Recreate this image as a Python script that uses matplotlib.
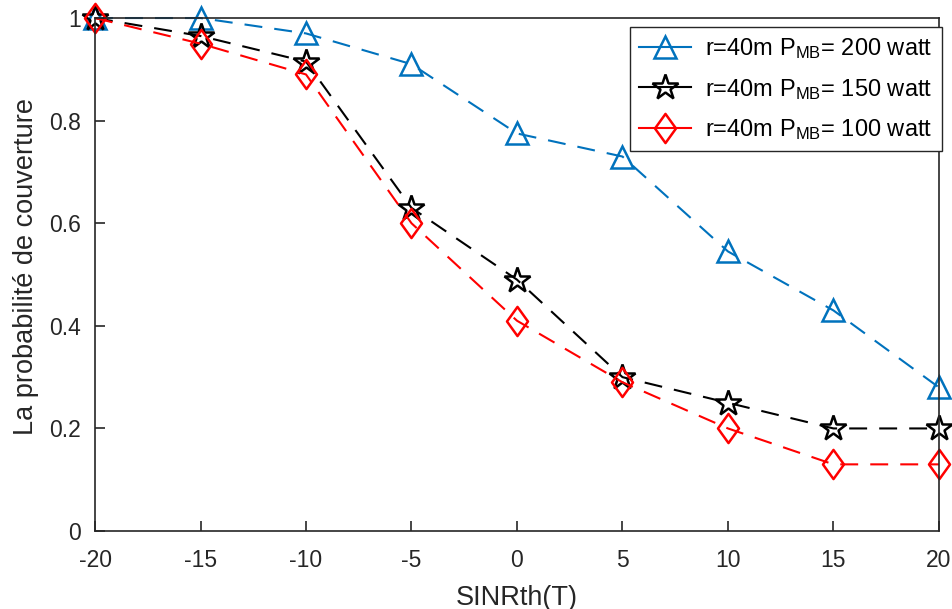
import matplotlib.pyplot as plt
from matplotlib.path import Path

plt.rcParams['font.family'] = ['Liberation Sans', 'DejaVu Sans']
plt.rcParams['mathtext.default'] = 'regular'
plt.rcParams['axes.unicode_minus'] = False

# data
sinr = [-20, -15, -10, -5, 0, 5, 10, 15, 20]
p_200 = [1.0, 1.0, 0.97, 0.91, 0.775, 0.73, 0.545, 0.43, 0.28]
p_150 = [1.0, 0.965, 0.915, 0.63, 0.49, 0.30, 0.25, 0.20, 0.20]
p_100 = [1.0, 0.95, 0.89, 0.60, 0.41, 0.29, 0.20, 0.13, 0.13]
labels = [r'r=40m P$_{MB}$= 200 watt',
          r'r=40m P$_{MB}$= 150 watt',
          r'r=40m P$_{MB}$= 100 watt']

# matlab style diamond, a bit taller than wide
diamond = Path([(0, 1), (0.72, 0), (0, -1), (-0.72, 0), (0, 1)],
               [Path.MOVETO, Path.LINETO, Path.LINETO, Path.LINETO, Path.CLOSEPOLY])

fig = plt.figure(figsize=(9.52, 6.09), dpi=100)
ax = fig.add_axes([0.0998, 0.128, 0.8865, 0.8424])

dash = (0, (8.6, 5.8))
ax.plot(sinr, p_200, color='#0072BD', linestyle=dash, lw=1.5, marker='^',
        ms=16, mfc='none', mew=1.8, label=labels[0], clip_on=False)
ax.plot(sinr, p_150, color='black', linestyle=dash, lw=1.5, marker='*',
        ms=19, mfc='none', mew=1.8, label=labels[1], clip_on=False)
ax.plot(sinr, p_100, color='red', linestyle=dash, lw=1.5, marker=diamond,
        ms=21, mfc='none', mew=1.8, label=labels[2], clip_on=False)

ax.set_xlim(-20, 20)
ax.set_ylim(0, 1)
ax.set_xticks(sinr)
ax.set_yticks([0, 0.2, 0.4, 0.6, 0.8, 1])
ax.set_yticklabels(['0', '0.2', '0.4', '0.6', '0.8', '1'])
ax.tick_params(direction='in', length=7, width=1.2, colors='#262626',
               labelsize=16.5, top=False, right=False)
ax.tick_params(axis='x', pad=13)
ax.tick_params(axis='y', pad=10)
for s in ax.spines.values():
    s.set_color('#262626')
    s.set_linewidth(1.2)

ax.set_xlabel('SINRth(T)', fontsize=19.5, color='#262626', labelpad=9)
ax.set_ylabel('La probabilité de couverture', fontsize=19.5, color='#262626')
ax.yaxis.set_label_coords(-0.066, 0.5166)

leg = ax.legend(loc='upper right', fontsize=17, handlelength=2.2,
                bbox_to_anchor=(0.9895, 0.9557), bbox_transform=fig.transFigure,
                fancybox=False, framealpha=1, edgecolor='#262626',
                borderaxespad=0, labelspacing=0.65, handletextpad=0.6,
                borderpad=0.4)
leg.get_frame().set_linewidth(1.0)
for h in leg.get_lines():
    h.set_linestyle('-')

fig.savefig('out.png', dpi=100)
